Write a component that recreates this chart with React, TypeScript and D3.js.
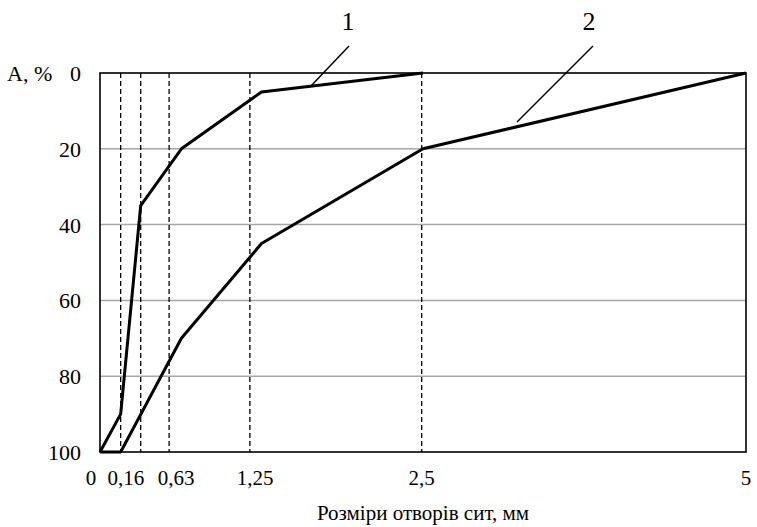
import React from "react";
import { scaleLinear, line } from "d3";

// sieve sizes, mm, and residue A, %
const curve1X = [0, 0.16, 0.315, 0.63, 1.25, 2.5];
const curve1Y = [100, 90, 35, 20, 5, 0];
const curve2X = [0, 0.16, 0.63, 1.25, 2.5, 5];
const curve2Y = [100, 100, 70, 45, 20, 0];

// dashed sieve lines (as drawn in the picture)
const sieveLines = [0.16, 0.315, 0.535, 1.16, 2.49];

const xTickLabels = ["0", "0,16", "0,63", "1,25", "2,5", "5"];
const xTickAt = [-0.07, 0.2, 0.59, 1.2, 2.49, 5];
const yTicks = [0, 20, 40, 60, 80, 100];
const gridTicks = [20, 40, 60, 80];

const width = 757;
const height = 527;
const font = '"Liberation Serif", "Times New Roman", Tinos, "DejaVu Serif", serif';

const App = () => {
  const left = 100;
  const right = 746;
  const top = 73;
  const bottom = 452;

  const x = scaleLinear().domain([0, 5]).range([left, right]);
  const y = scaleLinear().domain([0, 100]).range([top, bottom]);

  const path = line<[number, number]>()
    .x((d) => x(d[0]))
    .y((d) => y(d[1]));

  const d1 = path(curve1X.map((v, i) => [v, curve1Y[i]]));
  const d2 = path(curve2X.map((v, i) => [v, curve2Y[i]]));

  return (
    <svg
      width={width}
      height={height}
      viewBox={`0 0 ${width} ${height}`}
      style={{ position: "absolute", left: 0, top: 0, background: "#fff", fontFamily: font }}
    >
      {gridTicks.map((t) => (
        <line key={t} x1={left} x2={right} y1={y(t)} y2={y(t)} stroke="#a6a6a6" strokeWidth={1.5} />
      ))}
      {sieveLines.map((s) => (
        <line
          key={s}
          x1={x(s)}
          x2={x(s)}
          y1={top}
          y2={bottom}
          stroke="#000"
          strokeWidth={1.3}
          strokeDasharray="5,3"
        />
      ))}
      <rect x={left} y={top} width={right - left} height={bottom - top} fill="none" stroke="#000" strokeWidth={1.6} />
      <path d={d1 ?? ""} fill="none" stroke="#000" strokeWidth={3} strokeLinejoin="round" />
      <path d={d2 ?? ""} fill="none" stroke="#000" strokeWidth={3} strokeLinejoin="round" />

      {yTicks.map((t) => (
        <text key={t} x={81} y={y(t) + 8} textAnchor="end" fontSize={22} style={{ fontFamily: font }}>
          {t}
        </text>
      ))}
      <text x={7} y={y(0) + 8} fontSize={22} style={{ fontFamily: font }}>
        A, %
      </text>

      {xTickLabels.map((l, i) => (
        <text key={l} x={x(xTickAt[i])} y={485} textAnchor="middle" fontSize={21} style={{ fontFamily: font }}>
          {l}
        </text>
      ))}
      <text x={423} y={520} textAnchor="middle" fontSize={21} style={{ fontFamily: font }}>
        Розміри отворів сит, мм
      </text>

      {/* curve labels with leader lines */}
      <line x1={349} y1={46} x2={310} y2={87} stroke="#000" strokeWidth={1.5} />
      <text x={348} y={30} textAnchor="middle" fontSize={26} style={{ fontFamily: font }}>
        1
      </text>
      <line x1={593} y1={46} x2={517} y2={122} stroke="#000" strokeWidth={1.5} />
      <text x={589} y={30} textAnchor="middle" fontSize={26} style={{ fontFamily: font }}>
        2
      </text>
    </svg>
  );
};

export default App;
